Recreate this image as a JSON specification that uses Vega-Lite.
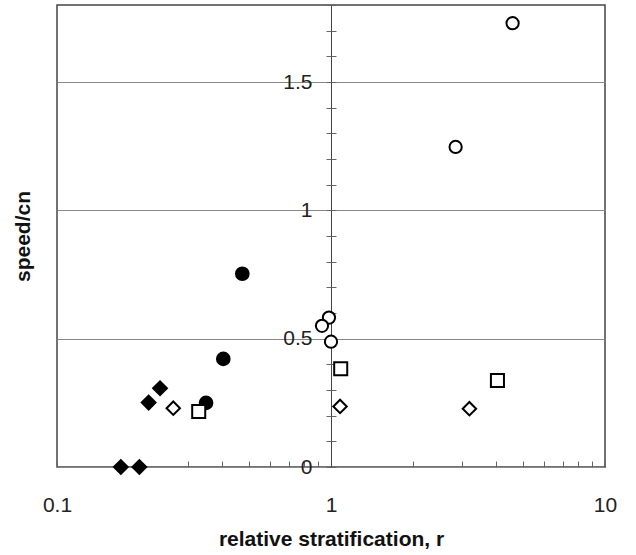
{
  "$schema": "https://vega.github.io/schema/vega-lite/v6.json",
  "width": 548,
  "height": 462,
  "autosize": {"type": "none"},
  "padding": {"left": 57, "top": 5, "right": 31, "bottom": 88},
  "background": "white",
  "config": {
    "font": "Liberation Sans",
    "view": {"stroke": "#444", "strokeWidth": 1.5},
    "axis": {"labelFont": "Liberation Sans", "titleFont": "Liberation Sans", "labelColor": "#222", "titleColor": "#111"}
  },
  "data": {
    "values": [
      {"r": 4.60, "speed": 1.729, "series": "open circle"},
      {"r": 2.85, "speed": 1.247, "series": "open circle"},
      {"r": 0.983, "speed": 0.582, "series": "open circle"},
      {"r": 0.927, "speed": 0.550, "series": "open circle"},
      {"r": 1.0, "speed": 0.488, "series": "open circle"},
      {"r": 0.4746, "speed": 0.753, "series": "filled circle"},
      {"r": 0.4045, "speed": 0.421, "series": "filled circle"},
      {"r": 0.35, "speed": 0.25, "series": "filled circle"},
      {"r": 0.329, "speed": 0.216, "series": "open square"},
      {"r": 1.085, "speed": 0.383, "series": "open square"},
      {"r": 4.05, "speed": 0.337, "series": "open square"},
      {"r": 0.2657, "speed": 0.229, "series": "open diamond"},
      {"r": 1.079, "speed": 0.236, "series": "open diamond"},
      {"r": 3.20, "speed": 0.227, "series": "open diamond"},
      {"r": 0.2377, "speed": 0.307, "series": "filled diamond"},
      {"r": 0.216, "speed": 0.251, "series": "filled diamond"},
      {"r": 0.171, "speed": 0.0, "series": "filled diamond"},
      {"r": 0.1998, "speed": 0.0, "series": "filled diamond"}
    ]
  },
  "encoding": {
    "x": {
      "field": "r", "type": "quantitative",
      "scale": {"type": "log", "domain": [0.1, 10], "nice": false},
      "axis": {
        "title": "relative stratification, r",
        "titleFontSize": 21, "titleFontWeight": "bold", "titlePadding": 13,
        "values": [0.1, 0.2, 0.3, 0.4, 0.5, 0.6, 0.7, 0.8, 0.9, 1, 2, 3, 4, 5, 6, 7, 8, 9, 10],
        "format": "~g",
        "labelExpr": "datum.value == 0.1 || datum.value == 1 || datum.value == 10 ? datum.label : ''",
        "labelFontSize": 21, "labelPadding": 33, "labelFlush": false,
        "tickSize": -6, "tickColor": "#666", "domain": false, "grid": false
      }
    }
  },
  "layer": [
    {
      "mark": {"type": "point", "filled": true, "stroke": "black", "strokeWidth": 2, "opacity": 1},
      "encoding": {
        "y": {
          "field": "speed", "type": "quantitative",
          "scale": {"domain": [0, 1.8], "nice": false, "zero": true},
          "axis": {
            "orient": "left", "offset": -274,
            "title": "speed/cn", "titleFontSize": 21, "titleFontWeight": "bold", "titleX": -298,
            "values": [0, 0.1, 0.2, 0.3, 0.4, 0.5, 0.6, 0.7, 0.8, 0.9, 1, 1.1, 1.2, 1.3, 1.4, 1.5, 1.6, 1.7, 1.8],
            "format": "~g",
            "labelExpr": "abs(datum.value*2 - round(datum.value*2)) < 1e-6 ? datum.label : ''",
            "labelFontSize": 21, "labelPadding": 14, "labelFlush": false,
            "tickSize": 5, "tickColor": "#666",
            "domain": true, "domainColor": "#444",
            "grid": true,
            "gridColor": {"condition": {"test": "abs(datum.value*2 - round(datum.value*2)) < 1e-6", "value": "#888"}, "value": "transparent"}
          }
        },
        "shape": {
          "field": "series", "type": "nominal", "legend": null,
          "scale": {"domain": ["open circle", "filled circle", "open square", "open diamond", "filled diamond"], "range": ["circle", "circle", "square", "diamond", "diamond"]}
        },
        "fill": {
          "field": "series", "type": "nominal", "legend": null,
          "scale": {"domain": ["open circle", "filled circle", "open square", "open diamond", "filled diamond"], "range": ["white", "black", "white", "white", "black"]}
        },
        "size": {
          "field": "series", "type": "nominal", "legend": null,
          "scale": {"domain": ["open circle", "filled circle", "open square", "open diamond", "filled diamond"], "range": [150, 190, 210, 200, 260]}
        }
      }
    },
    {
      "mark": {"type": "point", "opacity": 0},
      "encoding": {
        "y": {
          "field": "speed", "type": "quantitative",
          "axis": {
            "orient": "right", "offset": -274,
            "title": null,
            "values": [0, 0.1, 0.2, 0.3, 0.4, 0.5, 0.6, 0.7, 0.8, 0.9, 1, 1.1, 1.2, 1.3, 1.4, 1.5, 1.6, 1.7, 1.8],
            "labels": false, "tickSize": 5, "tickColor": "#666",
            "domain": false, "grid": false
          }
        }
      }
    }
  ],
  "resolve": {"axis": {"y": "independent"}}
}
